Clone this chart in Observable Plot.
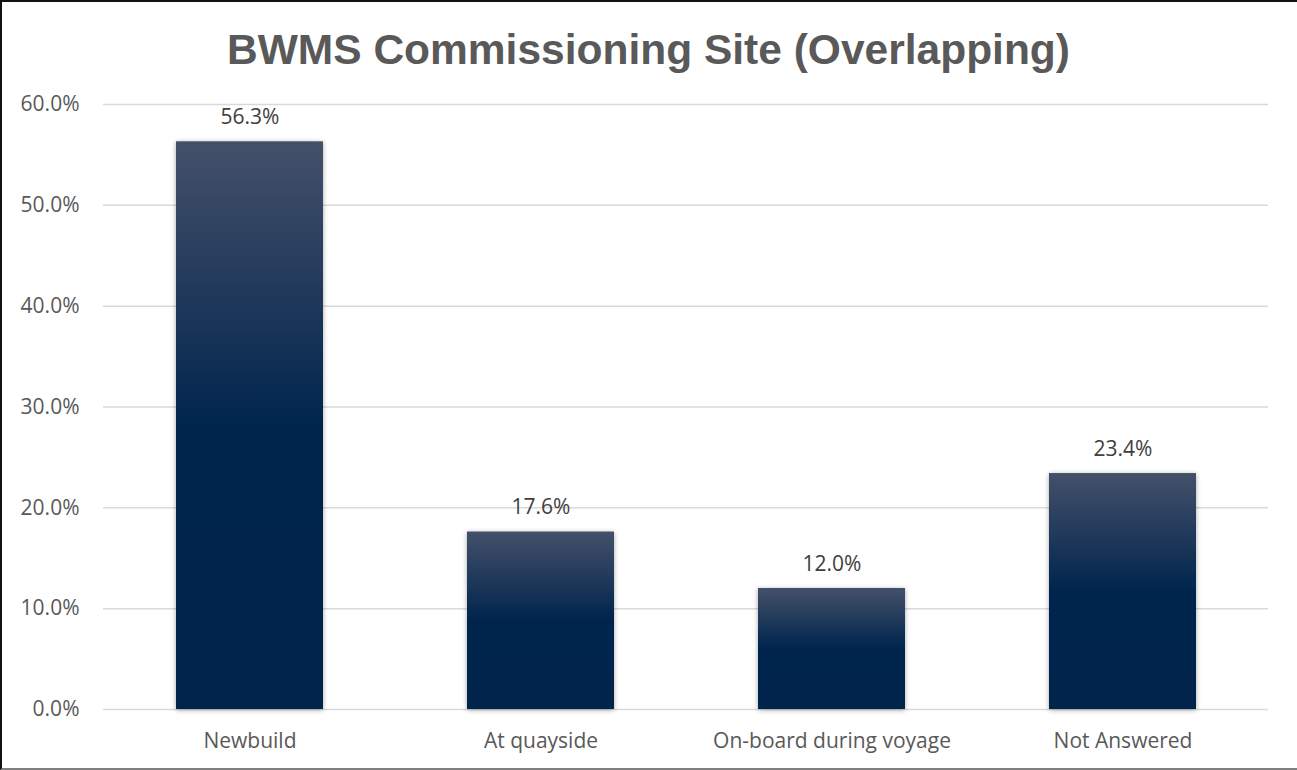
<!DOCTYPE html>
<html>
<head>
<meta charset="utf-8">
<script src="https://cdn.jsdelivr.net/npm/d3@7"></script>
<script src="https://cdn.jsdelivr.net/npm/@observablehq/plot@0.6"></script>
<style>
  html, body { margin: 0; padding: 0; background: #fff; }
  #frame {
    position: relative; width: 1297px; height: 770px; box-sizing: border-box;
    border-top: 2px solid #111; border-left: 2px solid #111; border-bottom: 2px solid #7f7f7f;
    overflow: hidden; background: #fff;
  }
  #title {
    position: absolute; left: 0; top: 23px; width: 1297px; text-align: center;
    font-family: "Liberation Sans", Arial, sans-serif; font-weight: bold; font-size: 42.5px;
    color: #595959; line-height: 50px; margin-left: -2px;
  }
  #chart { position: absolute; left: -2px; top: 76px; }
  #chart g[aria-label="bar"] rect { filter: drop-shadow(0px 1px 2.5px rgba(0,0,0,0.35)); }
</style>
</head>
<body>
<div id="frame">
  <div id="title">BWMS Commissioning Site (Overlapping)</div>
  <div id="chart"></div>
</div>
<script>
const categories = ["Newbuild", "At quayside", "On-board during voyage", "Not Answered"];
const values = [0.563, 0.176, 0.120, 0.234];
const yTicks = [0, 0.1, 0.2, 0.3, 0.4, 0.5, 0.6];

const data = categories.map((c, i) => ({category: c, value: values[i]}));
const pct = d3.format(".1%");

const plot = Plot.plot({
  width: 1297,
  height: 692,
  marginTop: 26,
  marginBottom: 61,
  marginLeft: 103,
  marginRight: 29,
  style: {fontFamily: "'Open Sans', sans-serif", fontSize: "21px", color: "#595959", background: "transparent"},
  x: {domain: categories, paddingInner: 0.495, paddingOuter: 0.2475, label: null},
  y: {domain: [0, 0.6], ticks: yTicks, label: null, tickFormat: pct},
  marks: [
    Plot.gridY(yTicks, {stroke: "#d9d9d9", strokeOpacity: 1, strokeWidth: 1.5}),
    Plot.axisY(yTicks, {tickSize: 0, tickPadding: 24, tickFormat: pct, fill: "#595959", label: null, fontSize: 21}),
    Plot.axisX({tickSize: 0, tickPadding: 24, fill: "#595959", label: null, fontSize: 21}),
    Plot.barY(data, {x: "category", y: "value", fill: "url(#barGrad)"}),
    Plot.text(data, {x: "category", y: "value", text: d => pct(d.value), lineAnchor: "bottom", dy: -18, fill: "#404040", fontSize: 21})
  ]
});

const ns = "http://www.w3.org/2000/svg";
const defs = document.createElementNS(ns, "defs");
const grad = document.createElementNS(ns, "linearGradient");
grad.setAttribute("id", "barGrad");
grad.setAttribute("x1", "0"); grad.setAttribute("y1", "0");
grad.setAttribute("x2", "0"); grad.setAttribute("y2", "1");
[["0%", "#44506a"], ["50%", "#00254d"], ["100%", "#00244a"]].forEach(([o, c]) => {
  const s = document.createElementNS(ns, "stop");
  s.setAttribute("offset", o); s.setAttribute("stop-color", c);
  grad.appendChild(s);
});
defs.appendChild(grad);
plot.insertBefore(defs, plot.firstChild);

document.getElementById("chart").appendChild(plot);
</script>
</body>
</html>
